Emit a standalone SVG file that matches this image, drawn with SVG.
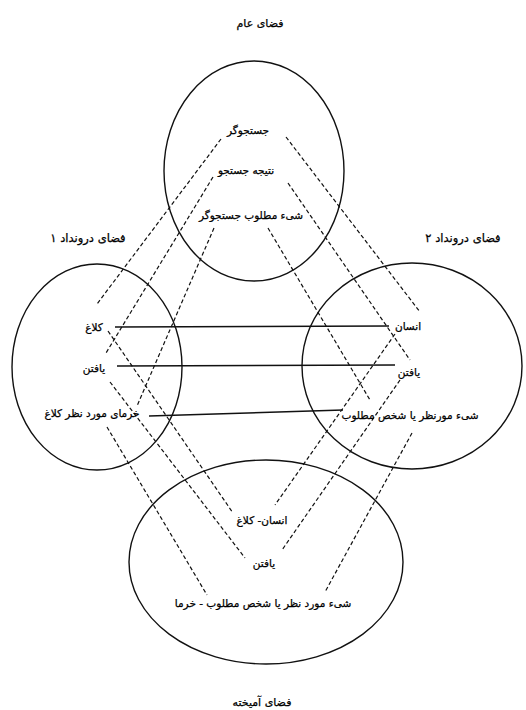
<svg xmlns="http://www.w3.org/2000/svg" width="526" height="710" viewBox="0 0 526 710">
<style>
.sp{fill:none;stroke:#111;stroke-width:1.4}
.d{stroke:#111;stroke-width:1.2;stroke-dasharray:4 2.5;fill:none}
.s{stroke:#111;stroke-width:1.5;fill:none}
text{font-family:"DejaVu Sans",sans-serif;font-size:10.5px;fill:#000;stroke:#000;stroke-width:0.25;text-anchor:middle}
.lb{font-size:11px}
</style>
<rect width="526" height="710" fill="#fff"/>
<g id="connectors">
<line class="d" x1="221" y1="139" x2="97" y2="304"/>
<line class="d" x1="213" y1="177" x2="106" y2="353"/>
<line class="d" x1="214" y1="228" x2="137" y2="406"/>
<line class="d" x1="286" y1="137" x2="420" y2="312"/>
<line class="d" x1="288" y1="183" x2="410" y2="360"/>
<line class="d" x1="268" y1="228" x2="370" y2="400"/>
<line class="d" x1="108" y1="331" x2="233" y2="513"/>
<line class="d" x1="110" y1="382" x2="245" y2="558"/>
<line class="d" x1="107" y1="427" x2="207" y2="595"/>
<line class="d" x1="395" y1="334" x2="275" y2="505"/>
<line class="d" x1="400" y1="380" x2="282" y2="550"/>
<line class="d" x1="412" y1="433" x2="325" y2="592"/>
<line class="s" x1="115" y1="327" x2="389" y2="326"/>
<line class="s" x1="117" y1="366" x2="395" y2="365"/>
<line class="s" x1="149" y1="416" x2="343" y2="410"/>
</g>
<g id="generic">
<ellipse class="sp" cx="254" cy="171" rx="90" ry="110"/>
<text x="260" y="27" class="lb">فضای عام</text>
<text x="248" y="134">جستجوگر</text>
<text x="246" y="174">نتیجه جستجو</text>
<text x="251" y="219">شیء مطلوب جستجوگر</text>
</g>
<g id="input1">
<ellipse class="sp" cx="97" cy="367" rx="85" ry="103"/>
<text x="88" y="242" class="lb" style="font-size:11.5px">فضای درونداد ۱</text>
<text x="94" y="331">کلاغ</text>
<text x="94" y="372">یافتن</text>
<text x="92" y="417">خرمای مورد نظر کلاغ</text>
</g>
<g id="input2">
<ellipse class="sp" cx="412" cy="366" rx="110" ry="103"/>
<text x="463" y="242" class="lb" style="font-size:11.5px">فضای درونداد ۲</text>
<text x="408" y="330">انسان</text>
<text x="409" y="376">یافتن</text>
<text x="410" y="419">شیء مورنظر یا شخص مطلوب</text>
</g>
<g id="blend">
<ellipse class="sp" cx="266" cy="562" rx="137" ry="102"/>
<text x="262" y="524">انسان- کلاغ</text>
<text x="264" y="567">یافتن</text>
<text x="263" y="607">شیء مورد نظر یا شخص مطلوب - خرما</text>
<text x="262" y="706" class="lb">فضای آمیخته</text>
</g>
</svg>
